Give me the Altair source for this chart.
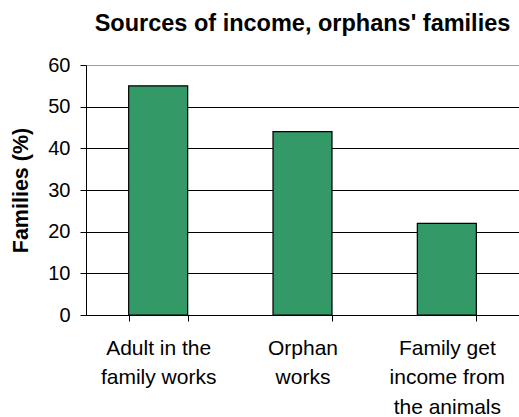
import altair as alt
import pandas as pd

categories = ["Adult in the|family works", "Orphan|works", "Family get|income from|the animals"]
values = [55, 44, 22]

df = pd.DataFrame({"source": categories, "pct": values})

FONT = "Liberation Sans"

chart = alt.Chart(df).mark_bar(
    color="#339966", stroke="black", strokeWidth=1.2, size=59
).encode(
    x=alt.X(
        "source:N", sort=categories, title=None,
        scale=alt.Scale(paddingInner=0.59, paddingOuter=0.295),
        axis=alt.Axis(
            labelAngle=0, labelExpr="split(datum.label, '|')",
            labelFont=FONT, labelFontSize=21, labelColor="black",
            labelLineHeight=29.5, labelBaseline="top", labelPadding=16,
            tickBand="extent", tickSize=6, tickColor="black",
            domainColor="black", grid=False, labelLimit=300,
        ),
    ),
    y=alt.Y(
        "pct:Q", title="Families (%)",
        scale=alt.Scale(domain=[0, 60], nice=False),
        axis=alt.Axis(
            values=[0, 10, 20, 30, 40, 50, 60],
            labelFont=FONT, labelFontSize=20, labelColor="black",
            labelPadding=10, tickSize=6, tickColor="black",
            domainColor="black",
            gridColor=alt.condition("datum.value === 60", alt.value("#a0a0a0"), alt.value("black")),
            gridWidth=1,
            titleFont=FONT, titleFontSize=21.5, titleFontWeight="bold", titleColor="black",
            titleX=-65, titleY=125, titleAngle=270, titleAlign="center", titleBaseline="middle",
        ),
    ),
).properties(
    width=433, height=250,
    title=alt.TitleParams(
        "Sources of income, orphans' families",
        font=FONT, fontSize=23.5, fontWeight="bold", color="black",
        anchor="middle", frame="group", baseline="alphabetic", offset=1,
    ),
    autosize=alt.AutoSizeParams(type="none"),
    padding={"left": 86, "top": 65, "right": 0, "bottom": 102},
).configure_view(strokeWidth=0).configure(background="white")

chart.save("out.html", embed_options={"renderer": "svg", "actions": False})
